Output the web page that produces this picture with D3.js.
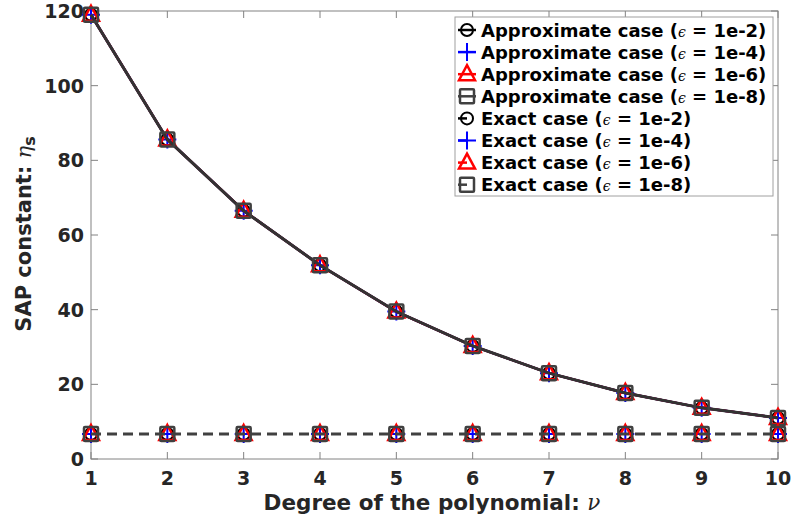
<!DOCTYPE html>
<html><head><meta charset="utf-8">
<script src="https://cdn.jsdelivr.net/npm/d3@7"></script>
<style>body{margin:0;background:#fff}svg{display:block}</style>
</head><body><svg id="c" width="791" height="521"></svg>
<script>
const degrees = [1,2,3,4,5,6,7,8,9,10];
const approxE2 = [119.0,85.6,66.5,51.9,39.5,30.3,23.0,17.7,13.7,11.0];
const approxE4 = [119.0,85.6,66.5,51.9,39.5,30.3,23.0,17.7,13.7,11.0];
const approxE6 = [119.0,85.6,66.5,51.9,39.5,30.3,23.0,17.7,13.7,11.0];
const approxE8 = [119.0,85.6,66.5,51.9,39.5,30.3,23.0,17.7,13.7,11.0];
const exactE2 = [6.7,6.7,6.7,6.7,6.7,6.7,6.7,6.7,6.7,6.7];
const exactE4 = [6.7,6.7,6.7,6.7,6.7,6.7,6.7,6.7,6.7,6.7];
const exactE6 = [6.7,6.7,6.7,6.7,6.7,6.7,6.7,6.7,6.7,6.7];
const exactE8 = [6.7,6.7,6.7,6.7,6.7,6.7,6.7,6.7,6.7,6.7];
const yTicks = [0,20,40,60,80,100,120];
const xTicks = [1,2,3,4,5,6,7,8,9,10];
const epsLabels = ["1e-2","1e-4","1e-6","1e-8"];

const svg = d3.select("#c");
const L=91,R=778,T=11,B=459;
const x = d3.scaleLinear().domain([1,10]).range([L,R]);
const y = d3.scaleLinear().domain([0,120]).range([B,T]);
const font = "'DejaVu Sans', sans-serif";
const axisCol = "#828282", txtCol = "#262626";

const g = svg.append("g");
g.append("rect").attr("x",L).attr("y",T).attr("width",R-L).attr("height",B-T)
 .attr("fill","none").attr("stroke",axisCol).attr("stroke-width",1);
const tl = 7;
xTicks.forEach(v=>{
  g.append("line").attr("x1",x(v)).attr("x2",x(v)).attr("y1",B).attr("y2",B-tl).attr("stroke",axisCol);
  g.append("line").attr("x1",x(v)).attr("x2",x(v)).attr("y1",T).attr("y2",T+tl).attr("stroke",axisCol);
  g.append("text").attr("x",x(v)).attr("y",485).attr("text-anchor","middle")
   .attr("font-family",font).attr("font-weight","bold").attr("font-size",19).attr("fill",txtCol).text(v);
});
yTicks.forEach(v=>{
  g.append("line").attr("x1",L).attr("x2",L+tl).attr("y1",y(v)).attr("y2",y(v)).attr("stroke",axisCol);
  g.append("line").attr("x1",R).attr("x2",R-tl).attr("y1",y(v)).attr("y2",y(v)).attr("stroke",axisCol);
  g.append("text").attr("x",L-7).attr("y",y(v)+7).attr("text-anchor","end")
   .attr("font-family",font).attr("font-weight","bold").attr("font-size",19).attr("fill",txtCol).text(v);
});

const xl = svg.append("text").attr("x",432).attr("y",510).attr("text-anchor","middle")
  .attr("font-family",font).attr("font-weight","bold").attr("font-size",21.5).attr("fill",txtCol);
xl.append("tspan").text("Degree of the polynomial: ");
xl.append("tspan").attr("font-family","'DejaVu Serif', serif").attr("font-style","italic").attr("font-weight","normal").text("ν");
const yl = svg.append("text").attr("transform","translate(31,234) rotate(-90)").attr("text-anchor","middle")
  .attr("font-family",font).attr("font-weight","bold").attr("font-size",21).attr("fill",txtCol);
yl.append("tspan").text("SAP constant: ");
yl.append("tspan").attr("font-family","'DejaVu Serif', serif").attr("font-style","italic").attr("font-weight","normal").text("η");
yl.append("tspan").attr("dy",4).attr("font-size",16).text("s");

const colors = ["#000000","#0000ff","#ff0000","#404040"];
function marker(sel, kind, cx, cy, col){
  if(kind===0) sel.append("circle").attr("cx",cx).attr("cy",cy).attr("r",6).attr("fill","none").attr("stroke",col).attr("stroke-width",2);
  else if(kind===1){
    sel.append("path").attr("d",`M${cx-9},${cy}H${cx+9}M${cx},${cy-9}V${cy+9}`).attr("stroke",col).attr("stroke-width",2).attr("fill","none");
  } else if(kind===2){
    sel.append("path").attr("d",`M${cx},${cy-9}L${cx+8},${cy+6}L${cx-8},${cy+6}Z`).attr("fill","none").attr("stroke",col).attr("stroke-width",2.5);
  } else {
    sel.append("rect").attr("x",cx-7).attr("y",cy-7).attr("width",14).attr("height",14).attr("rx",1).attr("fill","none").attr("stroke",col).attr("stroke-width",2.5);
  }
}
const approx = [approxE2,approxE4,approxE6,approxE8];
const exact = [exactE2,exactE4,exactE6,exactE8];
const line = d3.line().x((d,i)=>x(degrees[i])).y(d=>y(d));
const pg = svg.append("g");
approx.forEach((s,k)=>{
  pg.append("path").attr("d",line(s)).attr("fill","none").attr("stroke",k===3?"#333333":colors[k]).attr("stroke-width",k===3?3:2.5);
  s.forEach((v,i)=>marker(pg,k,x(degrees[i]),y(v),colors[k]));
});
exact.forEach((s,k)=>{
  if(k===3) pg.append("path").attr("d",line(s)).attr("fill","none").attr("stroke","#404040").attr("stroke-width",3).attr("stroke-dasharray","10,6");
  s.forEach((v,i)=>marker(pg,k,x(degrees[i]),y(v),colors[k]));
});

const lg = svg.append("g");
lg.append("rect").attr("x",455).attr("y",17).attr("width",318).attr("height",179).attr("fill","#fff").attr("stroke","#a0a0a0").attr("stroke-width",1);
const entries = [];
epsLabels.forEach((e,k)=>entries.push({name:"Approximate case (",e,k,dash:false}));
epsLabels.forEach((e,k)=>entries.push({name:"Exact case (",e,k,dash:true}));
entries.forEach((d,i)=>{
  const cy = 30 + i*22.1;
  const ln = lg.append("line").attr("x1",458).attr("x2",476).attr("y1",cy).attr("y2",cy)
    .attr("stroke",d.k===3?"#404040":colors[d.k]).attr("stroke-width",2.5);
  if(d.dash) ln.attr("x2",467);
  marker(lg,d.k,467,cy,colors[d.k]);
  const t = lg.append("text").attr("x",481).attr("y",cy+6.5).attr("font-family",font).attr("font-weight","bold").attr("font-size",18).attr("fill","#000");
  t.append("tspan").text(d.name);
  t.append("tspan").attr("font-family","'DejaVu Serif', serif").attr("font-style","italic").attr("font-weight","normal").attr("font-size",14).text("ϵ");
  t.append("tspan").text(" = "+d.e+")");
});
</script></body></html>
